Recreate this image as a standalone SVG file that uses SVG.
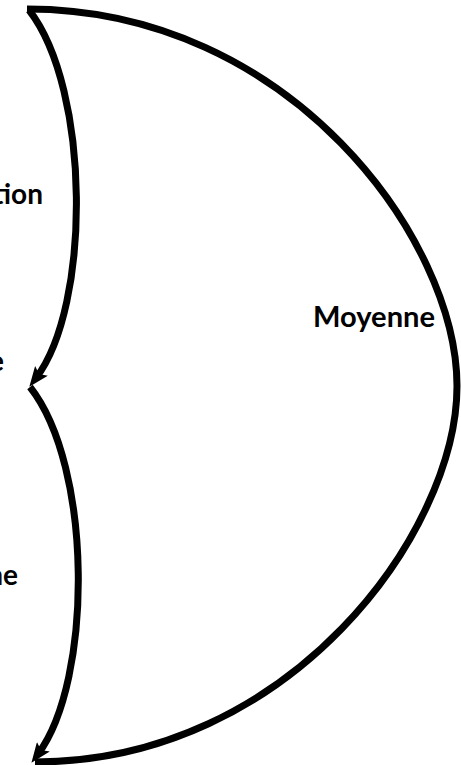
<svg xmlns="http://www.w3.org/2000/svg" width="461" height="765" viewBox="0 0 461 765">
<style>
.edge{fill:none;stroke:#000;stroke-width:7;stroke-linejoin:round}
.lbl{font-family:Lato,"Liberation Sans",sans-serif;font-weight:700;font-size:28px;fill:#000}
</style>
<defs>
<marker id="ah" markerUnits="userSpaceOnUse" markerWidth="20" markerHeight="16" viewBox="0 0 20 16" refX="9" refY="8" orient="auto">
<path d="M0,0 L20,8 L0,16 L4,8 z" fill="#000"/>
</marker>
</defs>
<rect width="461" height="765" fill="#fff"/>
<g id="connectors">
<path class="edge" d="M27,9 C 290,9 457,240 457,386 C 457,532 290,762 35,762"/>
<path class="edge" d="M29,10 C 91,90 91,306 36,378" marker-end="url(#ah)"/>
<path class="edge" d="M30,387 C 93,467 93,680 38,754" marker-end="url(#ah)"/>
</g>
<g id="label-tion"><text class="lbl" x="43" y="204" text-anchor="end">tion</text></g>
<g id="label-e"><text class="lbl" x="4" y="371" text-anchor="end">e</text></g>
<g id="label-ne"><text class="lbl" x="18" y="585" text-anchor="end">ne</text></g>
<g id="label-moyenne"><text class="lbl" x="313" y="327" textLength="122" lengthAdjust="spacingAndGlyphs">Moyenne</text></g>
</svg>
